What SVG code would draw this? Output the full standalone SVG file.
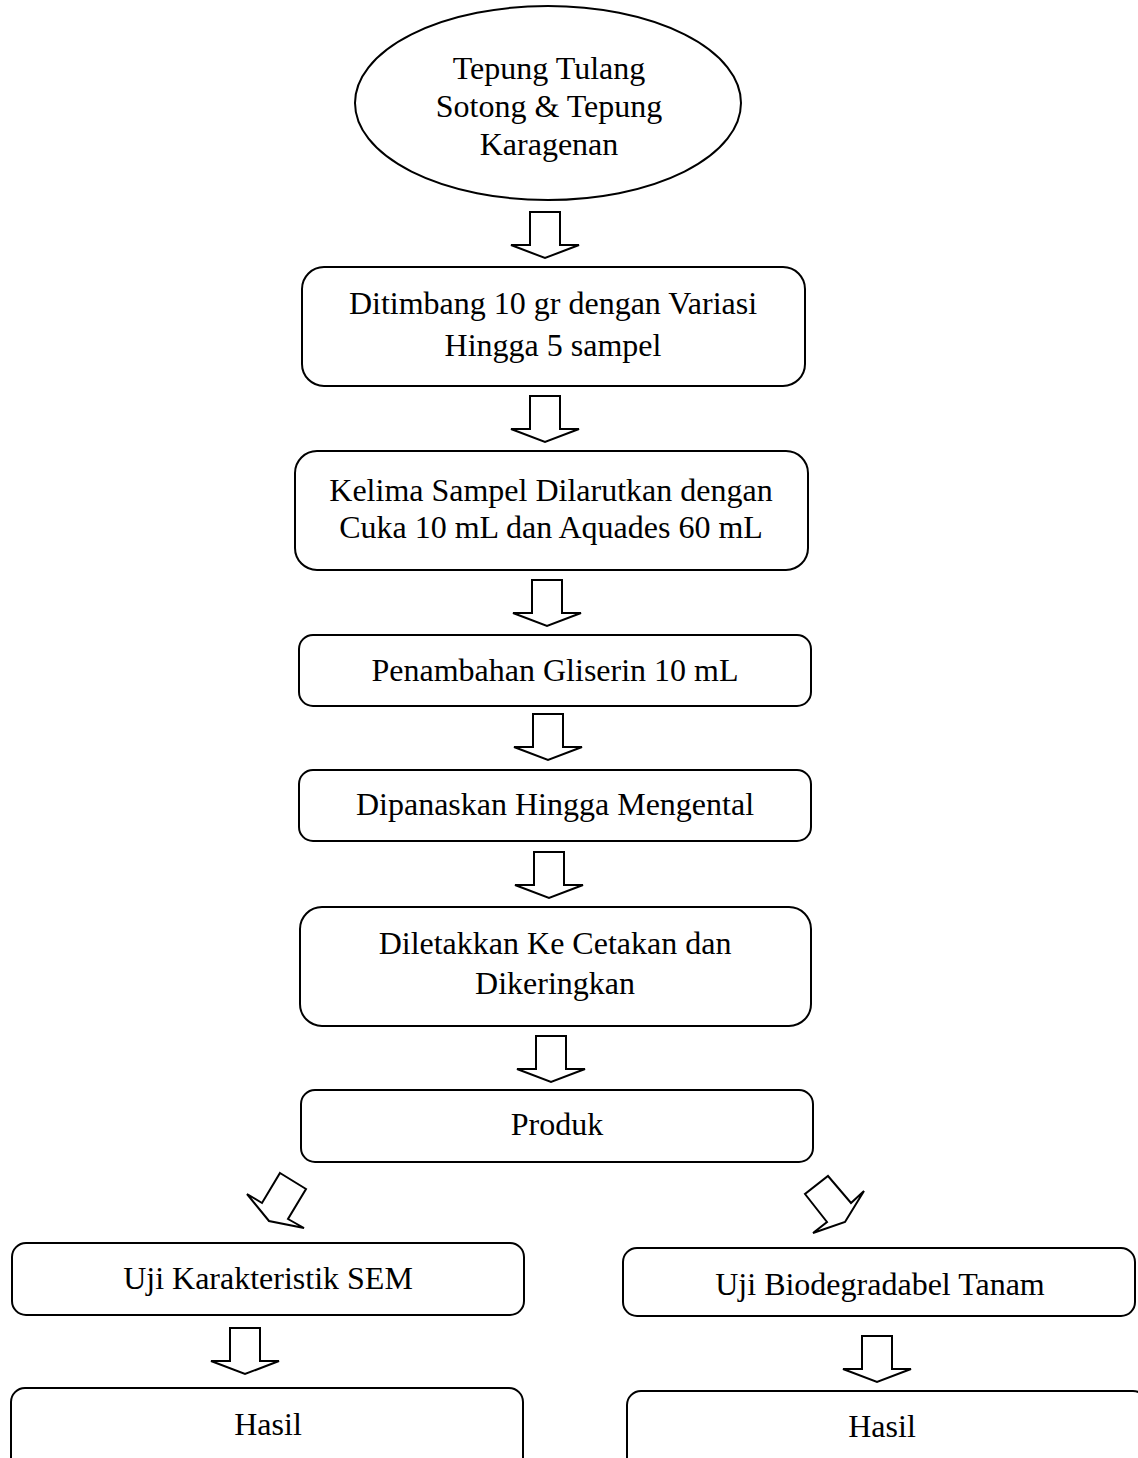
<svg xmlns="http://www.w3.org/2000/svg" xmlns:xlink="http://www.w3.org/1999/xlink" width="1138" height="1458" viewBox="0 0 1138 1458">
<style>
.box{fill:#fff;stroke:#000;stroke-width:2}
.arr{fill:#fff;stroke:#000;stroke-width:2;stroke-linejoin:miter}
text{font-family:"Liberation Serif","Times New Roman",serif;font-size:32px;fill:#000;text-anchor:middle}
</style>
<defs>
<polygon id="barrow" class="arr" points="-15,0 15,0 15,33 34,33 0,46 -34,33 -15,33"/>
</defs>
<rect width="1138" height="1458" fill="#fff"/>
<g id="connectors">
<use xlink:href="#barrow" x="545" y="212"/>
<use xlink:href="#barrow" x="545" y="396"/>
<use xlink:href="#barrow" x="547" y="580"/>
<use xlink:href="#barrow" x="548" y="714"/>
<use xlink:href="#barrow" x="549" y="852"/>
<use xlink:href="#barrow" x="551" y="1036"/>
<polygon class="arr" points="280,1173 306,1189 288,1219 304,1228 269,1221 247,1194 262,1203"/>
<polygon class="arr" points="828,1176 851,1203 864,1191 845,1222 813,1233 827,1222 805,1194"/>
<use xlink:href="#barrow" x="245" y="1328"/>
<use xlink:href="#barrow" x="877" y="1336"/>
</g>
<g id="n0">
<ellipse class="box" cx="548" cy="103" rx="193" ry="97"/>
<text x="549" y="79">Tepung Tulang</text>
<text x="549" y="117">Sotong &amp; Tepung</text>
<text x="549" y="155">Karagenan</text>
</g>
<g id="n1">
<rect class="box" x="302" y="267" width="503" height="119" rx="22"/>
<text x="553" y="314">Ditimbang 10 gr dengan Variasi</text>
<text x="553" y="356">Hingga 5 sampel</text>
</g>
<g id="n2">
<rect class="box" x="295" y="451" width="513" height="119" rx="22"/>
<text x="551" y="501">Kelima Sampel Dilarutkan dengan</text>
<text x="551" y="538">Cuka 10 mL dan Aquades 60 mL</text>
</g>
<g id="n3">
<rect class="box" x="299" y="635" width="512" height="71" rx="14"/>
<text x="555" y="681">Penambahan Gliserin 10 mL</text>
</g>
<g id="n4">
<rect class="box" x="299" y="770" width="512" height="71" rx="14"/>
<text x="555" y="815">Dipanaskan Hingga Mengental</text>
</g>
<g id="n5">
<rect class="box" x="300" y="907" width="511" height="119" rx="22"/>
<text x="555" y="954">Diletakkan Ke Cetakan dan</text>
<text x="555" y="994">Dikeringkan</text>
</g>
<g id="n6">
<rect class="box" x="301" y="1090" width="512" height="72" rx="14"/>
<text x="557" y="1135">Produk</text>
</g>
<g id="n7">
<rect class="box" x="12" y="1243" width="512" height="72" rx="14"/>
<text x="268" y="1289">Uji Karakteristik SEM</text>
</g>
<g id="n8">
<rect class="box" x="623" y="1248" width="512" height="68" rx="14"/>
<text x="880" y="1295">Uji Biodegradabel Tanam</text>
</g>
<g id="n9">
<rect class="box" x="11" y="1388" width="512" height="90" rx="14"/>
<text x="268" y="1435">Hasil</text>
</g>
<g id="n10">
<rect class="box" x="627" y="1391" width="520" height="90" rx="14"/>
<text x="882" y="1437">Hasil</text>
</g>
</svg>
